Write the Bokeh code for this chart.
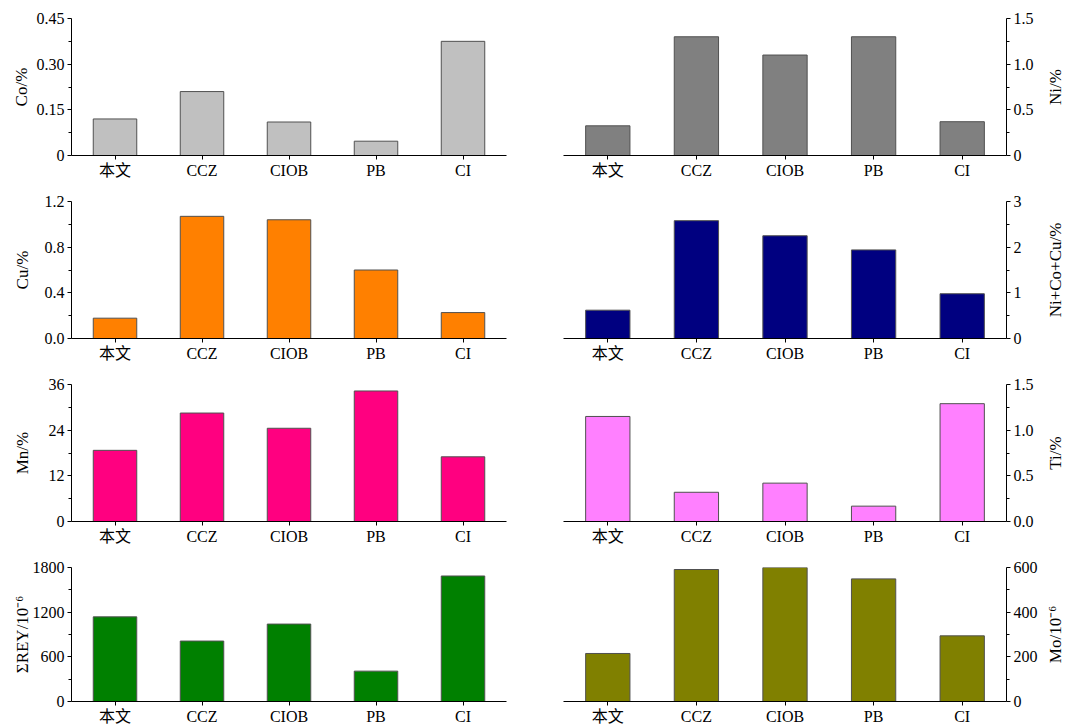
from bokeh.plotting import figure
from bokeh.models import Range1d, FixedTicker, FactorRange
from bokeh.layouts import column, row
from bokeh.embed import file_html
from bokeh.resources import INLINE

categories = ["本文", "CCZ", "CIOB", "PB", "CI"]

co = [0.12, 0.21, 0.11, 0.047, 0.375]
ni = [0.325, 1.30, 1.10, 1.30, 0.37]
cu = [0.178, 1.07, 1.04, 0.60, 0.227]
nicocu = [0.62, 2.58, 2.25, 1.94, 0.98]
mn = [18.7, 28.5, 24.5, 34.3, 17.0]
ti = [1.15, 0.32, 0.42, 0.168, 1.29]
rey = [1137, 812, 1040, 408, 1686]
mo = [215, 591, 600, 549, 294]

co_ticks = [0, 0.15, 0.30, 0.45]
co_labels = ["0", "0.15", "0.30", "0.45"]
ni_ticks = [0, 0.5, 1.0, 1.5]
ni_labels = ["0", "0.5", "1.0", "1.5"]
cu_ticks = [0, 0.4, 0.8, 1.2]
cu_labels = ["0.0", "0.4", "0.8", "1.2"]
nicocu_ticks = [0, 1, 2, 3]
nicocu_labels = ["0", "1", "2", "3"]
mn_ticks = [0, 12, 24, 36]
mn_labels = ["0", "12", "24", "36"]
ti_ticks = [0, 0.5, 1.0, 1.5]
ti_labels = ["0.0", "0.5", "1.0", "1.5"]
rey_ticks = [0, 600, 1200, 1800]
rey_labels = ["0", "600", "1200", "1800"]
mo_ticks = [0, 200, 400, 600]
mo_labels = ["0", "200", "400", "600"]

FONT = "Liberation Serif, Noto Sans CJK SC"

panels = [
    ("Co/%", co, "#C0C0C0", co_ticks, co_labels, "left", 3),
    ("Ni/%", ni, "#808080", ni_ticks, ni_labels, "right", 0),
    ("Cu/%", cu, "#FF8000", cu_ticks, cu_labels, "left", 10),
    ("Ni+Co+Cu/%", nicocu, "#000080", nicocu_ticks, nicocu_labels, "right", 0),
    ("Mn/%", mn, "#FF0080", mn_ticks, mn_labels, "left", 14),
    ("Ti/%", ti, "#FF80FF", ti_ticks, ti_labels, "right", 0),
    ("ΣREY/10⁻⁶", rey, "#008000", rey_ticks, rey_labels, "left", -2),
    ("Mo/10⁻⁶", mo, "#808000", mo_ticks, mo_labels, "right", 0),
]


def style_label(ax, text, standoff):
    ax.axis_label = text
    ax.axis_label_text_font = FONT
    ax.axis_label_text_font_style = "normal"
    ax.axis_label_text_font_size = "17px"
    ax.axis_label_text_color = "black"
    ax.axis_label_standoff = standoff


rows = []
current = []
for i, (label, vals, color, ticks, tlabels, side, lstand) in enumerate(panels):
    last = i >= 6
    h = 178 if last else 183
    top_b = 18
    bot_b = 23 if last else 28
    if side == "left":
        w, bl, br = 540, 71, 34
    else:
        w, bl, br = 502, 23, 36
    p = figure(width=w, height=h, x_range=FactorRange(*categories),
               y_range=Range1d(0, ticks[-1]), y_axis_location=side,
               output_backend="svg", toolbar_location=None,
               min_border_left=bl, min_border_right=br,
               min_border_top=top_b, min_border_bottom=bot_b)
    p.vbar(x=categories, top=vals, width=0.5, fill_color=color,
           line_color="#505050", line_width=1)
    p.x_range.range_padding = 0
    p.xgrid.visible = False
    p.ygrid.visible = False
    p.outline_line_color = None
    p.background_fill_color = "white"
    p.border_fill_color = "white"
    minor = [(ticks[k] + ticks[k + 1]) / 2 for k in range(len(ticks) - 1)]
    ax = p.yaxis[0]
    ax.ticker = FixedTicker(ticks=ticks, minor_ticks=minor)
    ax.major_label_overrides = {t: s for t, s in zip(ticks, tlabels)}
    if side == "left":
        style_label(ax, label, lstand)
    ax.major_label_text_font = FONT
    ax.major_label_text_font_size = "16px"
    ax.major_label_text_color = "black"
    ax.major_label_standoff = 3
    ax.major_tick_out = 4
    ax.major_tick_in = 0
    ax.minor_tick_out = 3
    ax.minor_tick_in = 0
    ax.axis_line_color = "black"
    ax.major_tick_line_color = "black"
    ax.minor_tick_line_color = "black"
    xa = p.xaxis[0]
    xa.major_label_text_font = FONT
    xa.major_label_text_font_size = "16px"
    xa.major_label_text_color = "black"
    xa.major_label_standoff = 2
    xa.major_tick_out = 4
    xa.major_tick_in = 0
    xa.axis_line_color = "black"
    xa.major_tick_line_color = "black"
    current.append(p)
    if side == "right":
        # narrow strip that carries the right-hand axis title, reading bottom-to-top
        q = figure(width=30, height=h, output_backend="svg", toolbar_location=None,
                   min_border_left=12, min_border_right=0,
                   min_border_top=top_b, min_border_bottom=bot_b,
                   x_range=Range1d(0, 1), y_range=Range1d(0, 1))
        q.xaxis.visible = False
        q.xgrid.visible = False
        q.ygrid.visible = False
        q.outline_line_color = None
        q.border_fill_color = "white"
        qa = q.yaxis[0]
        qa.ticker = FixedTicker(ticks=[])
        qa.axis_line_color = None
        qa.major_tick_line_color = None
        qa.minor_tick_line_color = None
        qa.major_tick_out = 0
        qa.minor_tick_out = 0
        qa.major_label_standoff = 0
        style_label(qa, label, 0)
        current.append(q)
        rows.append(row(*current))
        current = []

layout = column(*rows)
open("out.html", "w").write(file_html(layout, INLINE))
